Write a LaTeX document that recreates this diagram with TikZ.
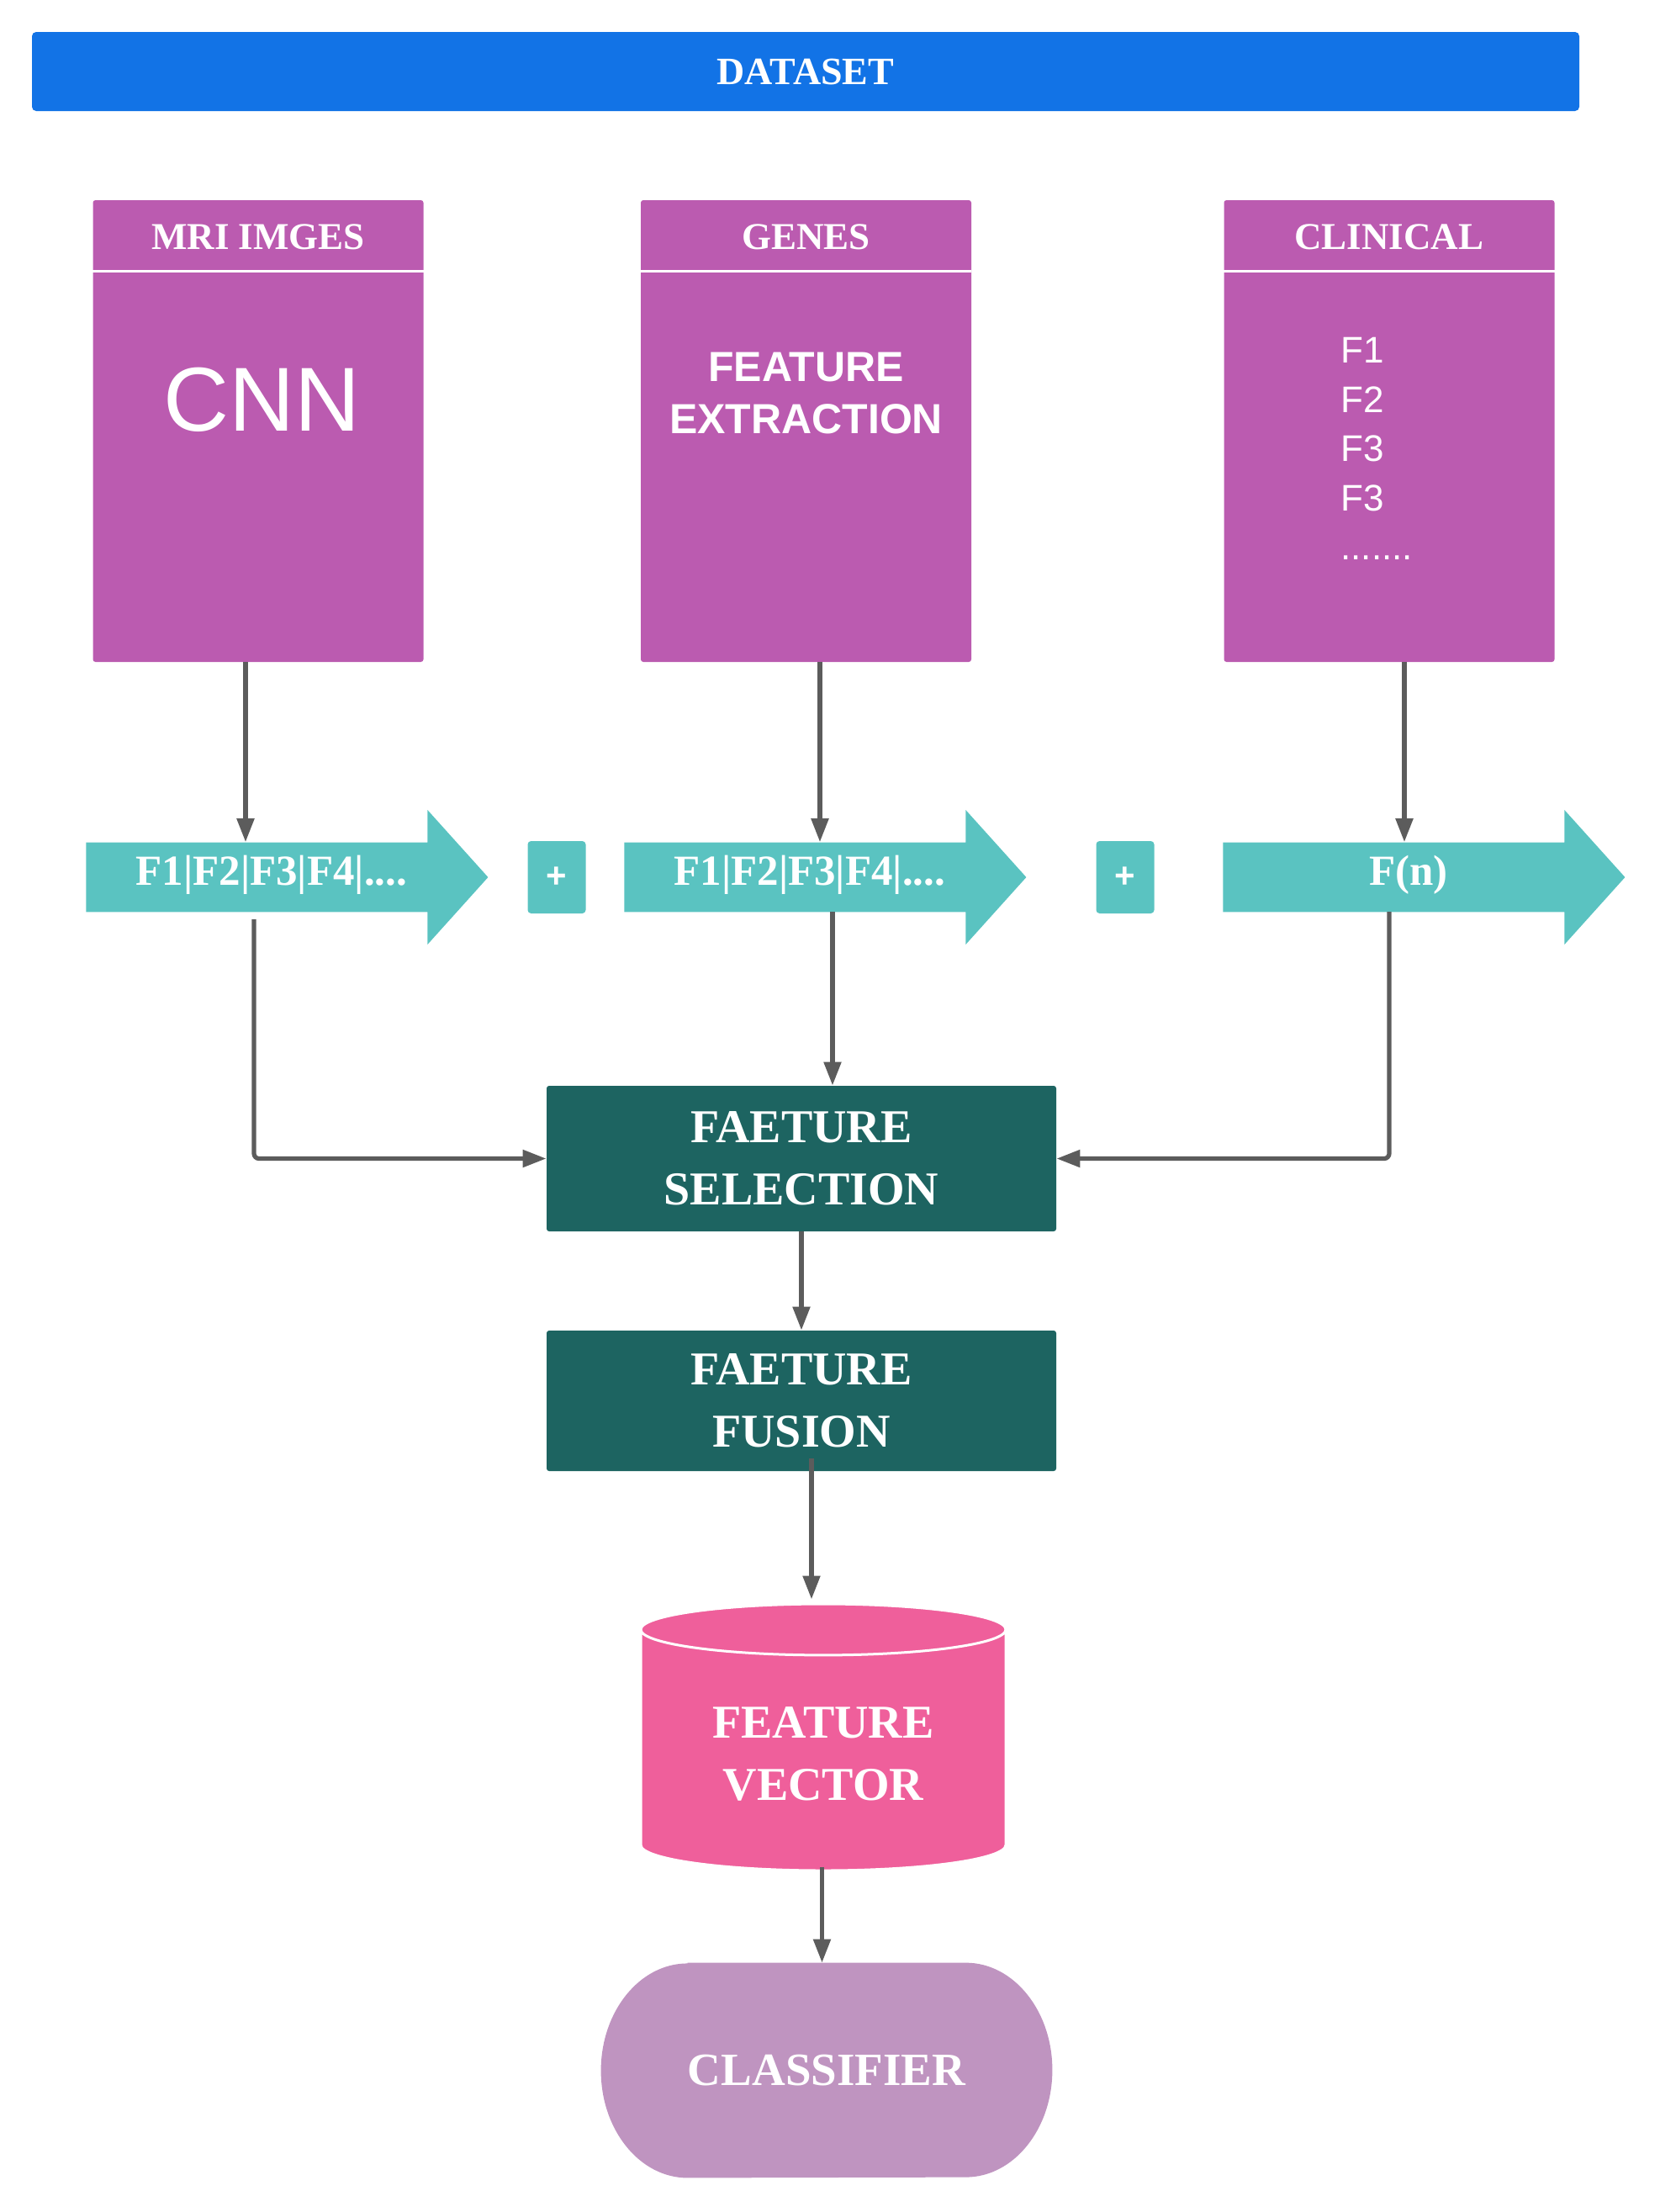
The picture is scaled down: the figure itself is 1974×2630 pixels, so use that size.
\documentclass[tikz,border=0pt]{standalone}
\usepackage{fontspec}
\setmainfont{Liberation Serif}
\setsansfont{Liberation Sans}
\usetikzlibrary{positioning,calc,arrows.meta,shapes.arrows,shapes.geometric,backgrounds}

\definecolor{datablue}{RGB}{18,115,230}
\definecolor{boxpurple}{RGB}{187,91,176}
\definecolor{arrowteal}{RGB}{90,195,193}
\definecolor{darkteal}{RGB}{29,100,97}
\definecolor{vecpink}{RGB}{239,95,155}
\definecolor{clslilac}{RGB}{191,148,192}
\definecolor{linegray}{RGB}{92,92,92}

\begin{document}
\begin{tikzpicture}[x=0.5pt, y=-0.5pt,
            every node/.style={text=white, align=center},
            colbox/.style={rectangle, fill=boxpurple, minimum width=196.5pt, minimum height=274.5pt, rounded corners=1.5pt},
            colhead/.style={font=\bfseries\fontsize{22.5}{26}\selectfont},
            featarrow/.style={single arrow, anchor=tail, fill=arrowteal, single arrow head extend=19.25pt, single arrow tip angle=96,
              minimum height=239pt, text height=14pt, text depth=5pt, inner ysep=11pt, font=\bfseries\fontsize{25.5}{30}\selectfont},
            plusbox/.style={rectangle, fill=arrowteal, minimum width=34.5pt, minimum height=43pt, rounded corners=2pt,
              font=\sffamily\bfseries\fontsize{21}{23}\selectfont},
            stepbox/.style={rectangle, fill=darkteal, minimum width=303pt, rounded corners=1.5pt, font=\bfseries\fontsize{28}{37}\selectfont},
            link/.style={draw=linegray, line width=2.6pt, -{Triangle[length=14pt,width=10pt]}, rounded corners=3pt}
            ]
            \useasboundingbox (0,0) rectangle (1974,2630);
            % Dataset bar
            \node[fill=datablue, minimum width=920pt, minimum height=47pt, rounded corners=2.5pt,
              font=\bfseries\fontsize{23}{27}\selectfont] (dataset) at (958,85) {DATASET};
            % Source columns
            \node[colbox] (mri) at (307,512.5) {};
            \node[colbox] (genes) at (958.5,512.5) {};
            \node[colbox] (clinical) at (1652,512.5) {};
            \foreach \col/\name in {mri/MRI IMGES, genes/GENES, clinical/CLINICAL} {
              \node[colhead] (\col head) at ($(\col.north)+(0,44)$) {\name};
              \draw[white, line width=1.5pt] ($(\col.north west)+(0,84.5)$) -- ($(\col.north east)+(0,84.5)$);
            }
            \node[font=\sffamily\fontsize{54}{60}\selectfont] (cnn) at ($(mri.north)+(4.5,237.5)$) {CNN};
            \node[font=\sffamily\bfseries\fontsize{25}{31}\selectfont] (extract) at ($(genes.north)+(0,229.5)$) {FEATURE\\EXTRACTION};
            \node[anchor=north west, inner sep=0pt, align=left, font=\sffamily\fontsize{22}{29.25}\selectfont] (flist) at (1594,401)
              {F1\\F2\\F3\\F3\\.......};
            % Feature vectors
            \node[featarrow] (vmri) at (102,1043) {F1|F2|F3|F4|....};
            \node[plusbox] (plusa) at (662,1043) {+};
            \node[featarrow] (vgenes) at (742,1043) {F1|F2|F3|F4|....};
            \node[plusbox] (plusb) at (1338,1043) {+};
            \node[featarrow] (vclin) at (1454,1043) {F(n)};
            % Selection and fusion
            \node[stepbox, minimum height=86.5pt] (select) at (953,1377.5) {FAETURE\\SELECTION};
            \node[stepbox, minimum height=83.5pt] (fusion) at (953,1665.5) {FAETURE\\FUSION};
            \node[cylinder, shape border rotate=90, aspect=0.22, anchor=shape center, minimum width=217pt, minimum height=158.5pt,
              fill=vecpink, draw=white, line width=1.5pt, font=\bfseries\fontsize{28}{37}\selectfont] (fvector) at (979,2065.5) {FEATURE\\VECTOR};
            \node[minimum width=268pt, minimum height=127.5pt, font=\bfseries\fontsize{27.5}{33}\selectfont] (classifier) at (983,2461.5) {CLASSIFIER};
            \scoped[on background layer]
              \fill[clslilac] ([xshift=51.5pt]classifier.north west) -- ([xshift=-51.5pt]classifier.north east)
                arc[start angle=90, end angle=-90, x radius=51.5pt, y radius=63.75pt]
                -- ([xshift=51.5pt]classifier.south west)
                arc[start angle=270, end angle=90, x radius=51.5pt, y radius=63.75pt] -- cycle;
            % Connectors
            \draw[link] ($(mri.south)+(-15,0)$) -- ($(mri.south |- vmri.north)+(-15,0)$);
            \draw[link] ($(genes.south)+(16.5,0)$) -- ($(genes.south |- vgenes.north)+(16.5,0)$);
            \draw[link] ($(clinical.south)+(18,0)$) -- ($(clinical.south |- vclin.north)+(18,0)$);
            \draw[link] ($(vmri.tail)+(200,50)$) |- (select.west);
            \draw[link] ($(vgenes.tail)+(248,41)$) -- ($(select.north)+(37,0)$);
            \draw[link] ($(vclin.tail)+(198,41)$) |- (select.east);
            \draw[link] (select.south) -- (fusion.north);
            \draw[link] ($(fusion.south)+(12,-15)$) -- ($(fvector.north)+(-14,-4)$);
            \draw[link] ($(fvector.south)+(-1.5,-6)$) -- ($(classifier.north)+(-5.5,0)$);
          \end{tikzpicture}
\end{document}
